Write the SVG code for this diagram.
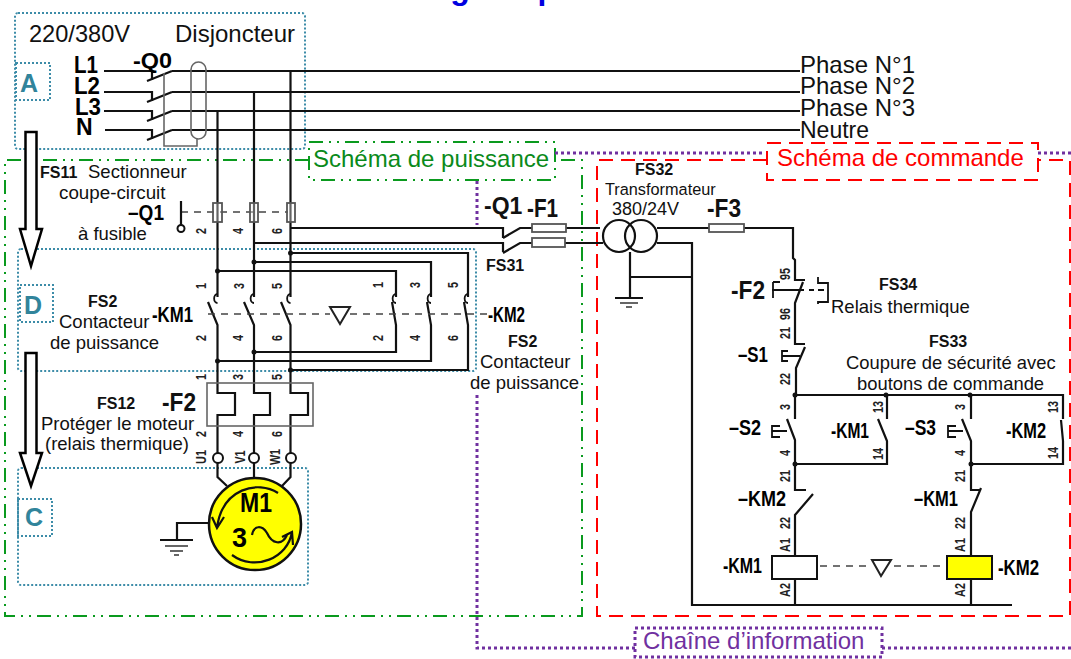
<svg xmlns="http://www.w3.org/2000/svg" width="1071" height="659" viewBox="0 0 1071 659">
<style>
text{font-family:"Liberation Sans",Arial,sans-serif;fill:#111}
.b{font-weight:bold}
.bt{font-weight:bold;font-size:16px}
.nr{font-size:18.500px}
.tag{font-weight:bold;font-size:22px;fill:#000}
.num{font-weight:bold;font-size:15px;fill:#222;text-anchor:middle}
.w{fill:none;stroke:#111;stroke-width:2.200}
.t{fill:none;stroke:#111;stroke-width:1.800}
.g{fill:none;stroke:#666;stroke-width:1.600}
.fuse{fill:#fff;fill-opacity:.35;stroke:#555;stroke-width:1.800}
.dash{fill:none;stroke:#444;stroke-width:1.600;stroke-dasharray:7 6}
.dot{fill:#111}
.teal{fill:none;stroke:#3d8ca8;stroke-width:2;stroke-dasharray:2 2}
.lab{font-weight:bold;font-size:25px;fill:#31849b}
.green{fill:none;stroke:#0a9a1e;stroke-width:2;stroke-dasharray:14 6 2 6 2 6}
.red{fill:none;stroke:#f00;stroke-width:2;stroke-dasharray:14 8}
.pur{fill:none;stroke:#7030a0;stroke-width:3;stroke-dasharray:3 3}
.arr{fill:#fff;stroke:#000;stroke-width:2.500}
</style>
<text x="404" y="-1" font-size="32" class="b" style="fill:#0000e0">magnétique</text>

<g id="regions">
<rect class="teal" x="15" y="13" width="290" height="136" rx="3"/>
<rect class="teal" x="16" y="63" width="34" height="37"/>
<rect class="teal" x="18" y="249" width="458" height="122" rx="3"/>
<rect class="teal" x="20" y="285" width="33" height="37"/>
<rect class="teal" x="18" y="468" width="290" height="117" rx="3"/>
<rect class="teal" x="18" y="499" width="34" height="37"/>
<path class="green" d="M309 160H5V616H582V160H555"/>
<rect class="green" x="309" y="142" width="246" height="38"/>
<path class="red" d="M767 160H597V616H1070V160H1038"/>
<rect class="red" x="767" y="143" width="271" height="37"/>
<path class="pur" d="M555 153H765M1038 153H1071"/>
<path class="pur" d="M477 181V225M477 395V648H635M882 648H1071"/>
<rect class="pur" x="635" y="628" width="247" height="29"/>
<text class="lab" x="20" y="92">A</text>
<text class="lab" x="24" y="314">D</text>
<text class="lab" x="25" y="526">C</text>
<text x="313" y="167" font-size="24" style="fill:#0a8a1a">Schéma de puissance</text>
<text x="777" y="166" font-size="24" style="fill:#f00">Schéma de commande</text>
<text x="643" y="649" font-size="24" style="fill:#7030a0">Chaîne d’information</text>
<path class="arr" d="M25.500 132H36.500V229H42L31 266L20 229H25.500Z"/>
<path class="arr" d="M25.500 353H36.500V453H42L31 486L20 453H25.500Z"/>
</g>

<g id="connectors">
<path class="w" d="M104 71H152V80M172 71H800M104 92H152V101M172 92H800M104 111H152V120M172 111H800M105 130H152V139M172 130H800"/>
<path class="w" d="M147 81L172 71M147 102L172 92M147 121L172 111M147 140L172 130"/>
<path class="g" d="M164 73V146H197V139"/>
<rect class="g" x="191" y="62" width="15" height="77" rx="7.500"/>
<path class="w" d="M217.500 111V297M254 92V297M290.500 71V297"/>
<path class="w" d="M290.500 228H503V238M254 243H503V252M503 238L520 228H600M503 253L520 243H603"/>
<path class="w" d="M290.500 253H468V297M254 262H431V297M217.500 271H396V297"/>
<path class="w" d="M208 302L217.500 325V393H235V415H217.500V453M244 302L254 325V393H270V415H254V453M281 302L290.500 325V393H308V415H290.500V453"/>
<path class="w" d="M392 302L396 325V352H254M427 302L431 325V361H217.500M464 302L468 325V370H290.500"/>
<path class="t" d="M217.500 303a3 4 0 0 1 0 -9M254 303a3 4 0 0 1 0 -9M290.500 303a3 4 0 0 1 0 -9M396 303a3 4 0 0 1 0 -9M431 303a3 4 0 0 1 0 -9M468 303a3 4 0 0 1 0 -9"/>
<circle class="dot" cx="290.500" cy="253" r="2.500"/><circle class="dot" cx="254" cy="262" r="2.500"/><circle class="dot" cx="217.500" cy="271" r="2.500"/>
<circle class="dot" cx="254" cy="352" r="2.500"/><circle class="dot" cx="217.500" cy="361" r="2.500"/><circle class="dot" cx="290.500" cy="370" r="2.500"/>
<path class="dash" d="M208 314H330M350 314H487"/>
<path class="dash" d="M181 212H288"/>
<path class="w" d="M217.500 463V477L227 486M254 463V478M290.500 463V477L282 486"/>
<path class="w" d="M208 523H177V540"/>
<path class="w" d="M657 228H793V258L795 260V280H805M803 282L795 303V344H805M805 347L796 368V395M657 243H692V605H1012M630 252V298M630 277H692"/>
<path class="w" d="M795 395H1063V419M1061 420L1063 441V464H971M795 395V419M787 419L795 440V490H806M813 494L795 515V556M795 579V605M795 464H887V441L878 419M887 395V419"/>
<path class="w" d="M971 395V419M962 419L971 441V490H980M981 488L971 512V556M971 579V605"/>
<circle class="dot" cx="795" cy="395" r="2.500"/><circle class="dot" cx="886" cy="395" r="2.500"/><circle class="dot" cx="970" cy="395" r="2.500"/><circle class="dot" cx="795" cy="464" r="2.500"/><circle class="dot" cx="971" cy="464" r="2.500"/>
<path class="dash" d="M820 566H871M894 566H946"/>
<path class="t" d="M772 290H804M773 282H780M773 282V298M773 290H780M809 290H814M818 290H824M818 277V283H828V302H818V304"/>
<path class="t" d="M788 351H782V361H788M782 356H800M780 426H772V437H780M772 431H787M956 426H948V437H956M948 431H963"/>
</g>

<g id="q0"><text class="tag" x="133" y="68" textLength="39" lengthAdjust="spacingAndGlyphs">-Q0</text></g>

<g id="q1-fuses">
<path class="w" d="M181 201V225"/>
<circle cx="181" cy="228.500" r="3.500" fill="#fff" stroke="#111" stroke-width="2"/>
<rect class="fuse" x="213" y="203" width="9" height="19"/>
<rect class="fuse" x="250" y="203" width="8" height="19"/>
<rect class="fuse" x="287" y="203" width="8" height="19"/>
<text class="tag" x="128" y="220" textLength="36" lengthAdjust="spacingAndGlyphs">–Q1</text>
</g>

<g id="f2-relay">
<rect class="g" x="207" y="383" width="106" height="43"/>
</g>

<g id="km-triangle"><path d="M330 307H350L340 324Z" fill="#fff" stroke="#222" stroke-width="2"/></g>

<g id="terminals">
<circle cx="218" cy="458" r="5" fill="#fff" stroke="#111" stroke-width="2"/>
<circle cx="254" cy="458" r="5" fill="#fff" stroke="#111" stroke-width="2"/>
<circle cx="291" cy="458" r="5" fill="#fff" stroke="#111" stroke-width="2"/>
</g>

<g id="motor">
<circle cx="255" cy="524" r="46" fill="#ff0" stroke="#111" stroke-width="2.500"/>
<path class="w" d="M278 493C258 480 222 488 217 528M212 517L217 528L224 517"/>
<path class="w" d="M232 555C255 572 288 558 292 532M282 537L292 532L293 545"/>
<path class="w" d="M252 535C254 525 262 525 267 533C272 544 282 546 287 535"/>
<text class="b" x="240" y="512" font-size="27" textLength="32" lengthAdjust="spacingAndGlyphs" style="fill:#000">M1</text>
<text class="b" x="232" y="547" font-size="27" style="fill:#000">3</text>
</g>

<g id="earth-motor"><path d="M160 540H193" stroke="#111" stroke-width="2"/><path d="M165 546H188M170 551H183M174 555H179" stroke="#666" stroke-width="1.800"/></g>
<g id="earth-transformer"><path d="M615 298H643" stroke="#111" stroke-width="2"/><path d="M620 303H638M626 307H632" stroke="#666" stroke-width="1.800"/></g>

<g id="fuses-f1">
<rect class="fuse" style="fill:#fff;fill-opacity:1" x="532" y="224" width="34" height="8"/>
<rect class="fuse" style="fill:#fff;fill-opacity:1" x="532" y="238" width="33" height="9"/>
</g>
<g id="transformer">
<circle cx="619" cy="236" r="16" fill="none" stroke="#111" stroke-width="2.200"/>
<circle cx="641" cy="236" r="16" fill="none" stroke="#111" stroke-width="2.200"/>
</g>
<g id="fuse-f3"><rect class="fuse" style="fill:#fff;fill-opacity:1" x="709" y="224" width="35" height="8"/></g>
<g id="coil-km1"><rect x="772" y="556" width="45" height="23" fill="#fff" stroke="#111" stroke-width="2"/></g>
<g id="coil-km2"><rect x="947" y="556" width="45" height="23" fill="#ff0" stroke="#111" stroke-width="2"/></g>
<g id="ctrl-triangle"><path d="M872 560H891L881 576Z" fill="#fff" stroke="#222" stroke-width="2"/></g>

<g id="labels">
<text x="29" y="42" font-size="23.600">220/380V</text>
<text x="175" y="42" font-size="24">Disjoncteur</text>
<text x="74" y="73" font-size="23" class="b" textLength="24" lengthAdjust="spacingAndGlyphs" style="fill:#000">L1</text>
<text x="74" y="94" font-size="23" class="b" textLength="26" lengthAdjust="spacingAndGlyphs" style="fill:#000">L2</text>
<text x="75" y="115" font-size="23" class="b" textLength="26" lengthAdjust="spacingAndGlyphs" style="fill:#000">L3</text>
<text x="76" y="135" font-size="23" class="b" style="fill:#000">N</text>
<g font-size="24">
<text x="800" y="73">Phase N°1</text>
<text x="800" y="94">Phase N°2</text>
<text x="800" y="116">Phase N°3</text>
<text x="800" y="138" font-size="23">Neutre</text>
</g>
<text class="bt" x="40" y="178">FS11</text>
<text class="nr" x="88" y="178">Sectionneur</text>
<text class="nr" x="59" y="199" style="font-size:18.800px">coupe-circuit</text>
<text class="nr" x="78" y="240">à fusible</text>
<text class="bt" x="88" y="307">FS2</text>
<text class="nr" x="59" y="328">Contacteur</text>
<text class="nr" x="50" y="349">de puissance</text>
<text class="tag" x="152" y="322" textLength="41" lengthAdjust="spacingAndGlyphs">-KM1</text>
<text class="bt" x="97" y="409">FS12</text>
<text x="162" y="411" font-size="25" class="b" textLength="34" lengthAdjust="spacingAndGlyphs">-F2</text>
<text class="nr" x="41" y="430">Protéger le moteur</text>
<text class="nr" x="45" y="450">(relais thermique)</text>
<text class="tag" x="488" y="322" textLength="37" lengthAdjust="spacingAndGlyphs">-KM2</text>
<text class="bt" x="508" y="347">FS2</text>
<text class="nr" x="480" y="368">Contacteur</text>
<text class="nr" x="470" y="389">de puissance</text>
<text x="484" y="214" font-size="23" class="b">-Q1</text>
<text x="527" y="217" font-size="25" class="b" textLength="31" lengthAdjust="spacingAndGlyphs">-F1</text>
<text class="bt" x="486" y="271">FS31</text>
<text class="bt" x="635" y="175">FS32</text>
<text x="605" y="195" font-size="16.300">Transformateur</text>
<text x="612" y="215" font-size="18">380/24V</text>
<text x="707" y="217" font-size="25" class="b" textLength="34" lengthAdjust="spacingAndGlyphs">-F3</text>
<text x="731" y="299" font-size="25" class="b" textLength="34" lengthAdjust="spacingAndGlyphs">-F2</text>
<text class="tag" x="738" y="362" textLength="30" lengthAdjust="spacingAndGlyphs">–S1</text>
<text class="bt" x="879" y="290">FS34</text>
<text x="831" y="313" font-size="18.500">Relais thermique</text>
<text class="bt" x="929" y="347">FS33</text>
<text x="846" y="369" font-size="18.400">Coupure de sécurité avec</text>
<text x="857" y="390" font-size="18.400">boutons de commande</text>
<text class="tag" x="729" y="435" textLength="32" lengthAdjust="spacingAndGlyphs">–S2</text>
<text class="tag" x="831" y="438" textLength="38" lengthAdjust="spacingAndGlyphs">-KM1</text>
<text class="tag" x="905" y="435" textLength="31" lengthAdjust="spacingAndGlyphs">–S3</text>
<text class="tag" x="1006" y="438" textLength="40" lengthAdjust="spacingAndGlyphs">-KM2</text>
<text class="tag" x="738" y="506" textLength="48" lengthAdjust="spacingAndGlyphs">–KM2</text>
<text class="tag" x="914" y="506" textLength="44" lengthAdjust="spacingAndGlyphs">–KM1</text>
<text class="tag" x="723" y="573" textLength="39" lengthAdjust="spacingAndGlyphs">-KM1</text>
<text class="tag" x="998" y="575" textLength="41" lengthAdjust="spacingAndGlyphs">-KM2</text>
</g>

<g id="terminal-numbers">
<text class="num" transform="translate(206 231) rotate(-90) scale(.72 1)">2</text>
<text class="num" transform="translate(243 231) rotate(-90) scale(.72 1)">4</text>
<text class="num" transform="translate(282 231) rotate(-90) scale(.72 1)">6</text>
<text class="num" transform="translate(206 286) rotate(-90) scale(.72 1)">1</text>
<text class="num" transform="translate(244 286) rotate(-90) scale(.72 1)">3</text>
<text class="num" transform="translate(282 286) rotate(-90) scale(.72 1)">5</text>
<text class="num" transform="translate(206 338) rotate(-90) scale(.72 1)">2</text>
<text class="num" transform="translate(243 338) rotate(-90) scale(.72 1)">4</text>
<text class="num" transform="translate(282 338) rotate(-90) scale(.72 1)">6</text>
<text class="num" transform="translate(206 377) rotate(-90) scale(.72 1)">1</text>
<text class="num" transform="translate(243 377) rotate(-90) scale(.72 1)">3</text>
<text class="num" transform="translate(282 377) rotate(-90) scale(.72 1)">5</text>
<text class="num" transform="translate(206 434) rotate(-90) scale(.72 1)">2</text>
<text class="num" transform="translate(243 434) rotate(-90) scale(.72 1)">4</text>
<text class="num" transform="translate(282 434) rotate(-90) scale(.72 1)">6</text>
<text class="num" transform="translate(206 457) rotate(-90) scale(.72 1)">U1</text>
<text class="num" transform="translate(245 457) rotate(-90) scale(.72 1)">V1</text>
<text class="num" transform="translate(280 457) rotate(-90) scale(.72 1)">W1</text>
<text class="num" transform="translate(383 285) rotate(-90) scale(.72 1)">1</text>
<text class="num" transform="translate(420 285) rotate(-90) scale(.72 1)">3</text>
<text class="num" transform="translate(458 285) rotate(-90) scale(.72 1)">5</text>
<text class="num" transform="translate(383 338) rotate(-90) scale(.72 1)">2</text>
<text class="num" transform="translate(420 338) rotate(-90) scale(.72 1)">4</text>
<text class="num" transform="translate(458 338) rotate(-90) scale(.72 1)">6</text>
<text class="num" transform="translate(790 274) rotate(-90) scale(.72 1)">95</text>
<text class="num" transform="translate(790 314) rotate(-90) scale(.72 1)">96</text>
<text class="num" transform="translate(790 333) rotate(-90) scale(.72 1)">21</text>
<text class="num" transform="translate(790 379) rotate(-90) scale(.72 1)">22</text>
<text class="num" transform="translate(790 407) rotate(-90) scale(.72 1)">3</text>
<text class="num" transform="translate(790 453) rotate(-90) scale(.72 1)">4</text>
<text class="num" transform="translate(790 476) rotate(-90) scale(.72 1)">21</text>
<text class="num" transform="translate(790 523) rotate(-90) scale(.72 1)">22</text>
<text class="num" transform="translate(790 545) rotate(-90) scale(.72 1)">A1</text>
<text class="num" transform="translate(790 590) rotate(-90) scale(.72 1)">A2</text>
<text class="num" transform="translate(965 407) rotate(-90) scale(.72 1)">3</text>
<text class="num" transform="translate(965 453) rotate(-90) scale(.72 1)">4</text>
<text class="num" transform="translate(965 476) rotate(-90) scale(.72 1)">21</text>
<text class="num" transform="translate(965 523) rotate(-90) scale(.72 1)">22</text>
<text class="num" transform="translate(965 545) rotate(-90) scale(.72 1)">A1</text>
<text class="num" transform="translate(965 590) rotate(-90) scale(.72 1)">A2</text>
<text class="num" transform="translate(883 407) rotate(-90) scale(.72 1)">13</text>
<text class="num" transform="translate(883 454) rotate(-90) scale(.72 1)">14</text>
<text class="num" transform="translate(1058 407) rotate(-90) scale(.72 1)">13</text>
<text class="num" transform="translate(1058 453) rotate(-90) scale(.72 1)">14</text>
</g>
</svg>
